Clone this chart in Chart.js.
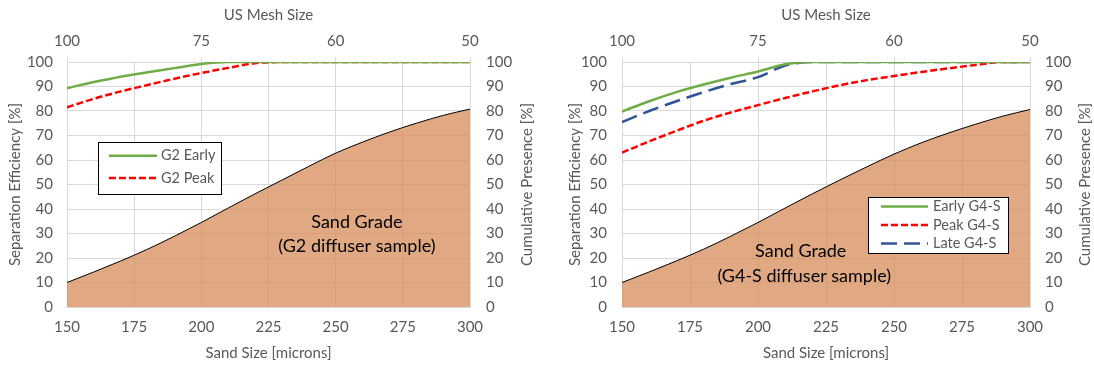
<!DOCTYPE html>
<html>
<head>
<meta charset="utf-8">
<script src="https://cdn.jsdelivr.net/npm/chart.js@4/dist/chart.umd.min.js"></script>
<style>
  body { margin: 0; background: #fff; width: 1094px; height: 366px; overflow: hidden; position: relative; }
  .box { position: absolute; top: 0; height: 366px; }
</style>
</head>
<body>
<div class="box" style="left:0px;width:539px"><canvas id="chartG2" width="539" height="366"></canvas></div>
<div class="box" style="left:563px;width:531px"><canvas id="chartG4" width="531" height="366"></canvas></div>
<script>
// sand size grid [microns]
const sandSizes = [150, 160, 170, 180, 190, 200, 210, 220, 230, 240, 250, 260, 270, 280, 290, 300];
// top axis: US mesh sizes at matching micron values
const meshTicks = [150, 200, 250, 300];
const meshLabels = ['100', '75', '60', '50'];

// cumulative presence of sand grade [%]
const sandGradeG2 = [10, 14.3, 18.8, 23.6, 28.9, 34.5, 40.4, 46.2, 51.8, 57.4, 62.8, 67.3, 71.4, 75, 78.2, 80.8];
const sandGradeG4 = [10, 14.3, 18.8, 23.6, 28.9, 34.5, 40.4, 46.2, 51.8, 57.2, 62.4, 67, 71, 74.6, 77.9, 80.6];

// separation efficiency [%]
const g2Early = [89.3, 91.8, 94.0, 95.8, 97.5, 99.2, 100, 100, 100, 100, 100, 100, 100, 100, 100, 100];
const g2Peak  = [81.5, 85.0, 88.0, 90.6, 93.2, 95.5, 97.6, 99.5, 100, 100, 100, 100, 100, 100, 100, 100];
const g4Early = [79.8, 84.0, 87.7, 90.8, 93.6, 96.1, 99.1, 100, 100, 100, 100, 100, 100, 100, 100, 100];
const g4Peak  = [63, 67.6, 71.9, 76, 79.4, 82.4, 85.3, 88, 90.5, 92.6, 94.3, 95.9, 97.4, 98.8, 100, 100];
const g4Late  = [75.5, 80, 84, 87.7, 91, 93.8, 98.6, 100, 100, 100, 100, 100, 100, 100, 100, 100];

const GRID = '#d9d9d9';
Chart.defaults.font.family = 'Lato';
Chart.defaults.font.size = 15;
Chart.defaults.color = '#595959';

function pts(values) {
  return values.map((v, i) => ({ x: sandSizes[i], y: v }));
}

function lineSet(label, values, color, dash) {
  return {
    label: label,
    data: pts(values),
    borderColor: color,
    borderWidth: 2.5,
    borderDash: dash,
    pointRadius: 0,
    fill: false,
    cubicInterpolationMode: 'monotone',
    yAxisID: 'y'
  };
}

function sandSet(values) {
  return {
    label: 'Sand Grade',
    data: pts(values),
    borderColor: '#000',
    borderWidth: 1,
    backgroundColor: 'rgba(214, 140, 90, 0.75)',
    pointRadius: 0,
    fill: 'origin',
    cubicInterpolationMode: 'monotone',
    yAxisID: 'y2'
  };
}

// draws the in-plot legend box, the sand grade note and the right-hand title
const overlayPlugin = {
  id: 'overlay',
  afterDatasetsDraw(chart, args, opts) {
    const { ctx, chartArea, scales } = chart;
    ctx.save();
    ctx.font = '18px Lato';
    ctx.fillStyle = '#000';
    ctx.textAlign = 'center';
    ctx.textBaseline = 'middle';
    opts.notes.forEach(n => {
      ctx.fillText(n.text, scales.x.getPixelForValue(n.x), scales.y.getPixelForValue(n.y));
    });

    const lb = opts.legend;
    const bx = Math.round(chartArea.left + lb.left);
    const by = Math.round(chartArea.top + lb.top);
    ctx.fillStyle = '#fff';
    ctx.fillRect(bx, by, lb.width, lb.height);
    ctx.strokeStyle = '#000';
    ctx.lineWidth = 1;
    ctx.strokeRect(bx + 0.5, by + 0.5, lb.width, lb.height);
    lb.rows.forEach((r, i) => {
      const ds = chart.data.datasets[i];
      const y = by + r;
      ctx.beginPath();
      ctx.setLineDash(ds.borderDash || []);
      ctx.strokeStyle = ds.borderColor;
      ctx.lineWidth = ds.borderWidth;
      ctx.moveTo(bx + lb.lineX, y);
      ctx.lineTo(bx + lb.lineX + lb.lineLen, y);
      ctx.stroke();
      ctx.setLineDash([]);
      ctx.fillStyle = '#595959';
      ctx.font = '14.5px Lato';
      ctx.textAlign = 'left';
      ctx.fillText(ds.label, bx + lb.textX, y);
    });

    // right axis title, reading bottom to top
    ctx.translate(chart.width - opts.rightTitleInset, (chartArea.top + chartArea.bottom) / 2);
    ctx.rotate(-Math.PI / 2);
    ctx.font = '15px Lato';
    ctx.fillStyle = '#595959';
    ctx.textAlign = 'center';
    ctx.fillText('Cumulative Presence [%]', 0, 0);
    ctx.restore();
  }
};

function makeChart(id, datasets, layout, overlay) {
  const ctx = document.getElementById(id).getContext('2d');
  return new Chart(ctx, {
    type: 'line',
    data: { datasets: datasets },
    plugins: [overlayPlugin],
    options: {
      responsive: false,
      animation: false,
      layout: { padding: 0 },
      plugins: {
        legend: { display: false },
        tooltip: { enabled: false },
        overlay: overlay
      },
      scales: {
        x: {
          type: 'linear', position: 'bottom', min: 150, max: 300,
          ticks: { stepSize: 25, padding: 11 },
          grid: { color: GRID, drawTicks: false },
          border: { color: GRID },
          title: { display: true, text: 'Sand Size [microns]', padding: { top: 0, bottom: 4 } },
          afterFit: s => { s.height = 59; }
        },
        x2: {
          type: 'linear', position: 'top', min: 150, max: 300, display: true,
          afterBuildTicks: s => { s.ticks = meshTicks.map(v => ({ value: v })); },
          ticks: { padding: 7, callback: v => meshLabels[meshTicks.indexOf(v)] },
          grid: { drawOnChartArea: false, color: GRID, tickLength: 5 },
          border: { display: false },
          title: { display: true, text: 'US Mesh Size', padding: { top: 6, bottom: 0 } },
          afterFit: s => { s.height = 62; }
        },
        y: {
          min: 0, max: 100,
          ticks: { stepSize: 10, padding: layout.yPad },
          grid: { color: GRID, drawTicks: false },
          border: { color: GRID },
          title: { display: true, text: 'Separation Efficiency [%]', padding: { top: layout.yTitlePad, bottom: 0 } },
          afterFit: s => { s.width = layout.yWidth; }
        },
        y2: {
          position: 'right', min: 0, max: 100,
          ticks: { stepSize: 10, padding: layout.y2Pad },
          grid: { drawOnChartArea: false, drawTicks: false },
          border: { color: GRID },
          afterFit: s => { s.width = layout.y2Width; }
        }
      }
    }
  });
}

makeChart('chartG2', [
  lineSet('G2 Early', g2Early, '#70ad47', []),
  lineSet('G2 Peak', g2Peak, '#ff0000', [7, 3]),
  sandSet(sandGradeG2)
], { yWidth: 67, y2Width: 69, yPad: 14, y2Pad: 16, yTitlePad: 6 }, {
  notes: [
    { text: 'Sand Grade', x: 257.9, y: 34.6 },
    { text: '(G2 diffuser sample)', x: 257.9, y: 24.8 }
  ],
  legend: { left: 31, top: 80, width: 123, height: 52, rows: [13.7, 36], lineX: 11, lineLen: 48, textX: 63 },
  rightTitleInset: 12
});

makeChart('chartG4', [
  lineSet('Early G4-S', g4Early, '#70ad47', []),
  lineSet('Peak G4-S', g4Peak, '#ff0000', [7, 3]),
  lineSet('Late G4-S', g4Late, '#2f5597', [16, 7]),
  sandSet(sandGradeG4)
], { yWidth: 59, y2Width: 64, yPad: 15, y2Pad: 15, yTitlePad: 3 }, {
  notes: [
    { text: 'Sand Grade', x: 215.7, y: 22.8 },
    { text: '(G4-S diffuser sample)', x: 217, y: 12.5 }
  ],
  legend: { left: 246, top: 135, width: 140, height: 56, rows: [9.5, 28, 46.5], lineX: 13, lineLen: 47, textX: 65 },
  rightTitleInset: 9
});
</script>
</body>
</html>
